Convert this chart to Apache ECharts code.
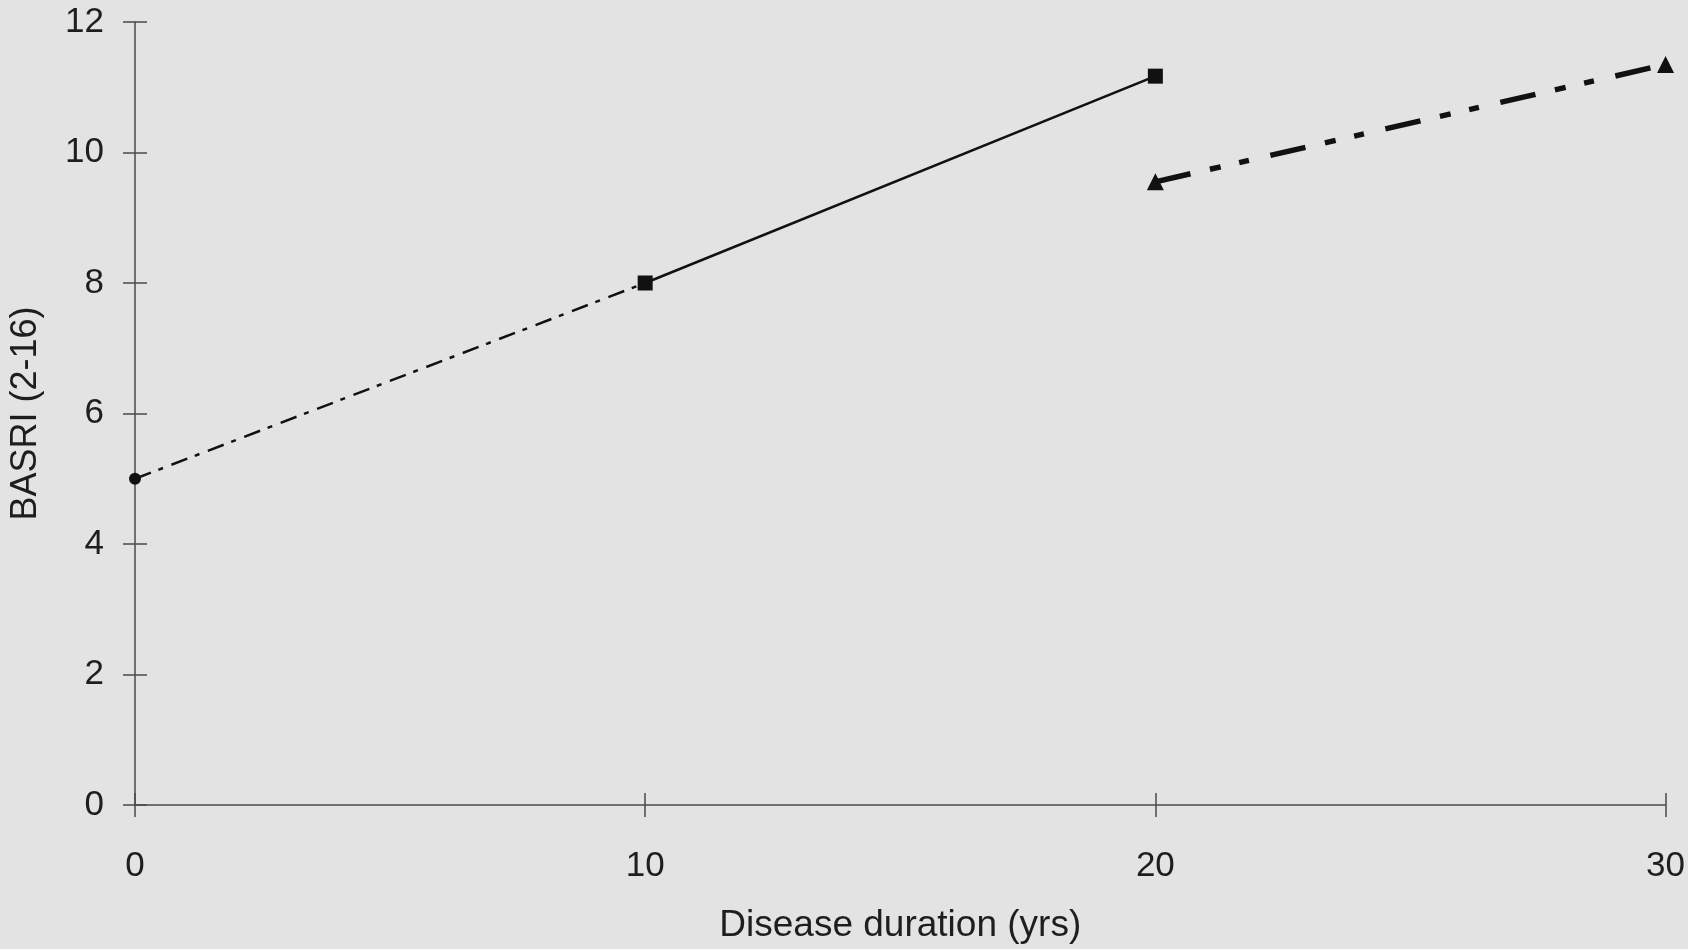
<!DOCTYPE html>
<html>
<head>
<meta charset="utf-8">
<script src="https://cdn.jsdelivr.net/npm/echarts@6/dist/echarts.min.js"></script>
<style>
html,body{margin:0;padding:0;background:#e3e3e3;}
#c{width:1688px;height:949px;}
</style>
</head>
<body>
<div id="c"></div>
<script>
// Data
var xTicks = [0, 10, 20, 30];
var yTicks = [0, 2, 4, 6, 8, 10, 12];
var earlyX = [0, 10];
var earlyY = [5, 8];
var midX = [10, 20];
var midY = [8, 11.17];
var lateX = [20, 30];
var lateY = [9.55, 11.35];
var xTitle = 'Disease duration (yrs)';
var yTitle = 'BASRI (2-16)';

function pairs(xs, ys){ return xs.map(function(x,i){ return [x, ys[i]]; }); }

var FONT = '"Liberation Sans", Arial, sans-serif';
var TXT = '#1e1e1e';
var AX = '#4a4a4a';

var chart = echarts.init(document.getElementById('c'), null, {renderer:'canvas'});
var xBase = {
  type:'value', min:xTicks[0], max:xTicks[xTicks.length-1], interval:10,
  position:'bottom', splitLine:{show:false}
};
var yBase = {
  type:'value', min:yTicks[0], max:yTicks[yTicks.length-1], interval:2,
  position:'left', splitLine:{show:false}
};
chart.setOption({
  backgroundColor:'#e3e3e3',
  animation:false,
  grid:{left:133, right:22, top:22, bottom:143},
  xAxis:[
    Object.assign({}, xBase, {
      name:xTitle, nameLocation:'middle', nameGap:102,
      nameTextStyle:{fontFamily:FONT, fontSize:37, color:TXT},
      axisLine:{show:true, lineStyle:{color:AX, width:1.5}},
      axisTick:{show:true, inside:false, length:12, lineStyle:{color:AX, width:1.5}},
      axisLabel:{margin:44, fontFamily:FONT, fontSize:35, color:TXT}
    }),
    Object.assign({}, xBase, {
      axisLine:{show:false},
      axisTick:{show:true, inside:true, length:12, lineStyle:{color:AX, width:1.5}},
      axisLabel:{show:false}
    })
  ],
  yAxis:[
    Object.assign({}, yBase, {
      name:yTitle, nameLocation:'middle', nameGap:91,
      nameTextStyle:{fontFamily:FONT, fontSize:36, color:TXT},
      axisLine:{show:true, lineStyle:{color:AX, width:1.5}},
      axisTick:{show:true, inside:false, length:12, lineStyle:{color:AX, width:1.5}},
      axisLabel:{margin:31, fontFamily:FONT, fontSize:35, color:TXT}
    }),
    Object.assign({}, yBase, {
      axisLine:{show:false},
      axisTick:{show:true, inside:true, length:12, lineStyle:{color:AX, width:1.5}},
      axisLabel:{show:false}
    })
  ],
  series:[
    {
      type:'line', xAxisIndex:0, yAxisIndex:0,
      data:pairs(earlyX, earlyY),
      symbol:'circle', symbolSize:12,
      showAllSymbol:true,
      itemStyle:{color:'#111'},
      lineStyle:{color:'#111', width:2.5, type:[17, 8, 5, 9]},
      z:3
    },
    {
      type:'line', xAxisIndex:0, yAxisIndex:0,
      data:pairs(midX, midY),
      symbol:'rect', symbolSize:15,
      itemStyle:{color:'#111'},
      lineStyle:{color:'#111', width:2.5, type:'solid'},
      z:4
    },
    {
      type:'line', xAxisIndex:0, yAxisIndex:0,
      data:pairs(lateX, lateY),
      symbol:'triangle', symbolSize:17,
      itemStyle:{color:'#111'},
      lineStyle:{color:'#111', width:5.5, type:[36, 20, 11, 19, 10, 22]},
      z:3
    }
  ]
});
</script>
</body>
</html>
